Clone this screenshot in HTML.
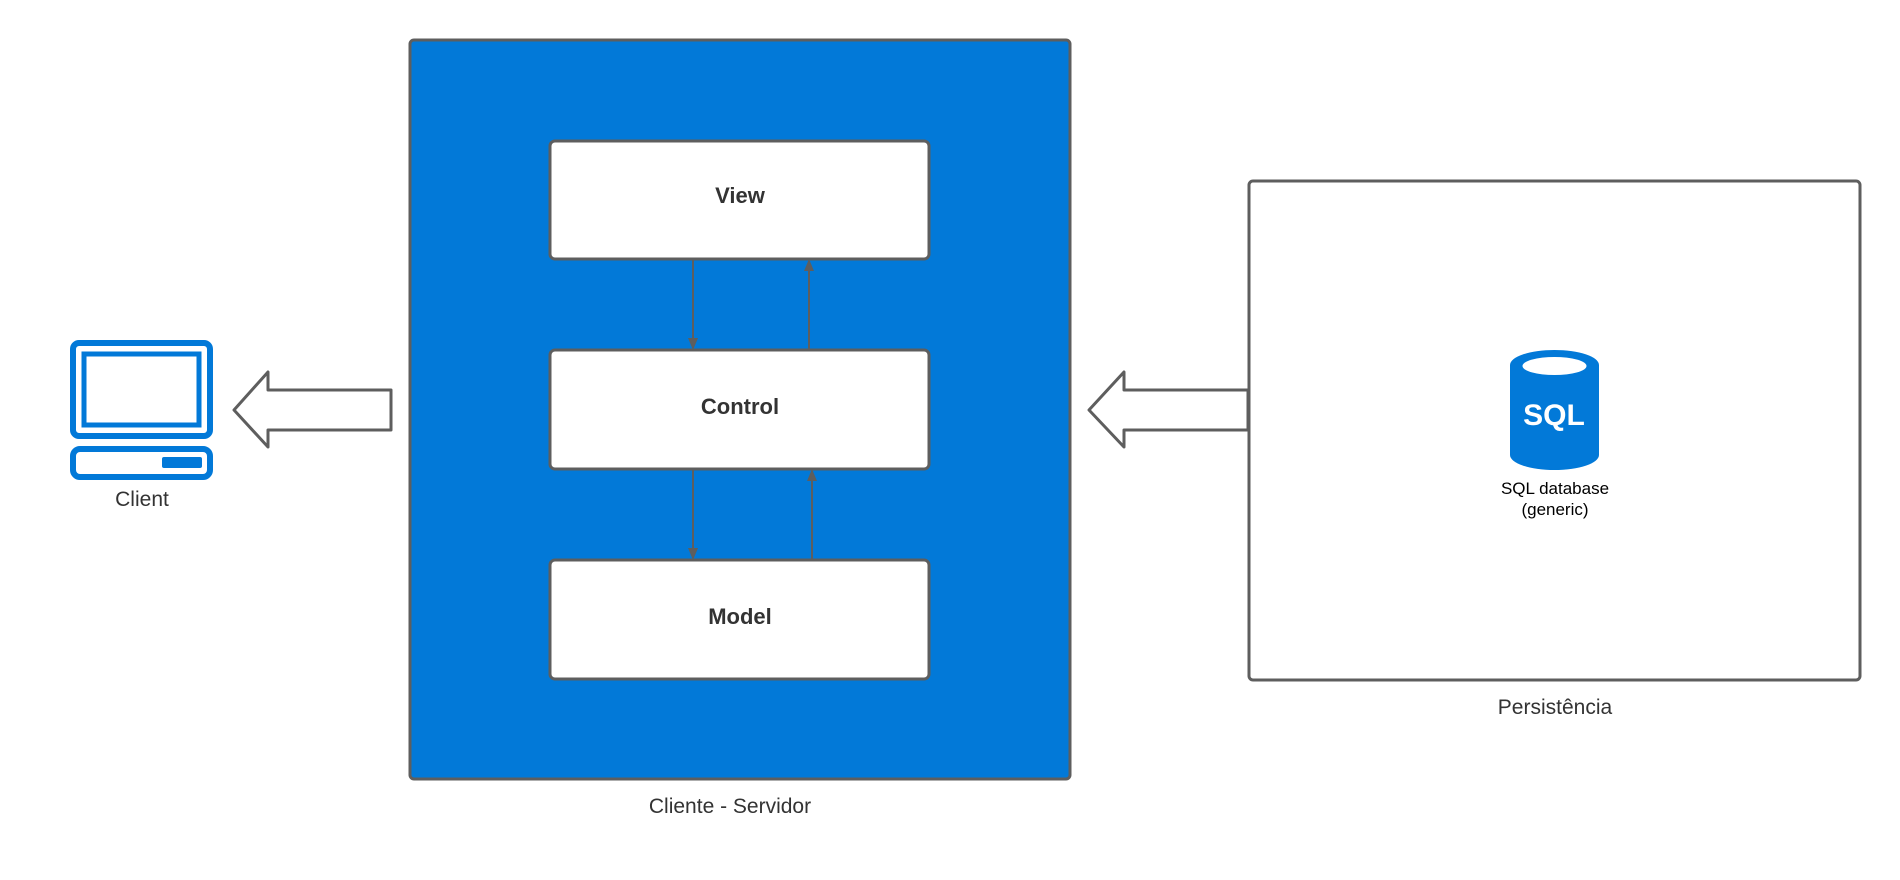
<!DOCTYPE html>
<html><head><style>
body{margin:0;background:#fff;}
svg{display:block;font-family:"Liberation Sans",Arial,sans-serif;}
</style></head><body>
<svg width="1900" height="880" viewBox="0 0 1900 880" xmlns="http://www.w3.org/2000/svg">
<defs>
<marker id="ah" markerWidth="12" markerHeight="12" refX="10" refY="6" orient="auto" markerUnits="userSpaceOnUse">
<path d="M0,1 L12,6 L0,11 Z" fill="#5e5e5e"/>
</marker>
</defs>
<rect x="410" y="40" width="660" height="739" rx="4" fill="#0279d8" stroke="#5e5e5e" stroke-width="3"/>
<g fill="#fff" stroke="#5e5e5e" stroke-width="3">
<rect x="550" y="141" width="379" height="118" rx="5"/>
<rect x="550" y="350" width="379" height="119" rx="5"/>
<rect x="550" y="560" width="379" height="119" rx="5"/>
</g>
<g font-weight="bold" font-size="22" fill="#333" text-anchor="middle">
<text x="740" y="203">View</text>
<text x="740" y="414">Control</text>
<text x="740" y="624">Model</text>
</g>
<g stroke="#5e5e5e" stroke-width="2">
<line x1="693" y1="259" x2="693" y2="348" marker-end="url(#ah)"/>
<line x1="809" y1="350" x2="809" y2="261" marker-end="url(#ah)"/>
<line x1="693" y1="469" x2="693" y2="558" marker-end="url(#ah)"/>
<line x1="812" y1="560" x2="812" y2="471" marker-end="url(#ah)"/>
</g>
<g fill="#fff" stroke="#5e5e5e" stroke-width="3" stroke-linejoin="round">
<path d="M234,410 L268,372 L268,390 L391,390 L391,430 L268,430 L268,447 Z"/>
<path d="M1089,410 L1124,372 L1124,390 L1248,390 L1248,430 L1124,430 L1124,447 Z"/>
</g>
<rect x="1249" y="181" width="611" height="499" rx="4" fill="#fff" stroke="#5e5e5e" stroke-width="3"/>
<g fill="none" stroke="#0279d8">
<rect x="73" y="343" width="137" height="93" rx="6" stroke-width="6"/>
<rect x="84" y="354" width="115" height="71" stroke-width="5"/>
<rect x="73" y="449" width="137" height="28" rx="7" stroke-width="6"/>
</g>
<rect x="162" y="457" width="40" height="11" rx="2" fill="#0279d8"/>
<text x="142" y="506" font-size="21" fill="#333" text-anchor="middle">Client</text>
<path d="M1510,365 A44.5,15 0 0 1 1599,365 L1599,455 A44.5,15 0 0 1 1510,455 Z" fill="#0279d8"/>
<ellipse cx="1554.5" cy="366" rx="32" ry="9" fill="#fff"/>
<text x="1554" y="425" font-size="30" font-weight="bold" fill="#fff" text-anchor="middle">SQL</text>
<text x="1555" y="494" font-size="17" fill="#000" text-anchor="middle">SQL database</text>
<text x="1555" y="515" font-size="17" fill="#000" text-anchor="middle">(generic)</text>
<text x="730" y="813" font-size="21" fill="#333" text-anchor="middle">Cliente - Servidor</text>
<text x="1555" y="714" font-size="21" fill="#333" text-anchor="middle">Persistência</text>
</svg>
</body></html>
